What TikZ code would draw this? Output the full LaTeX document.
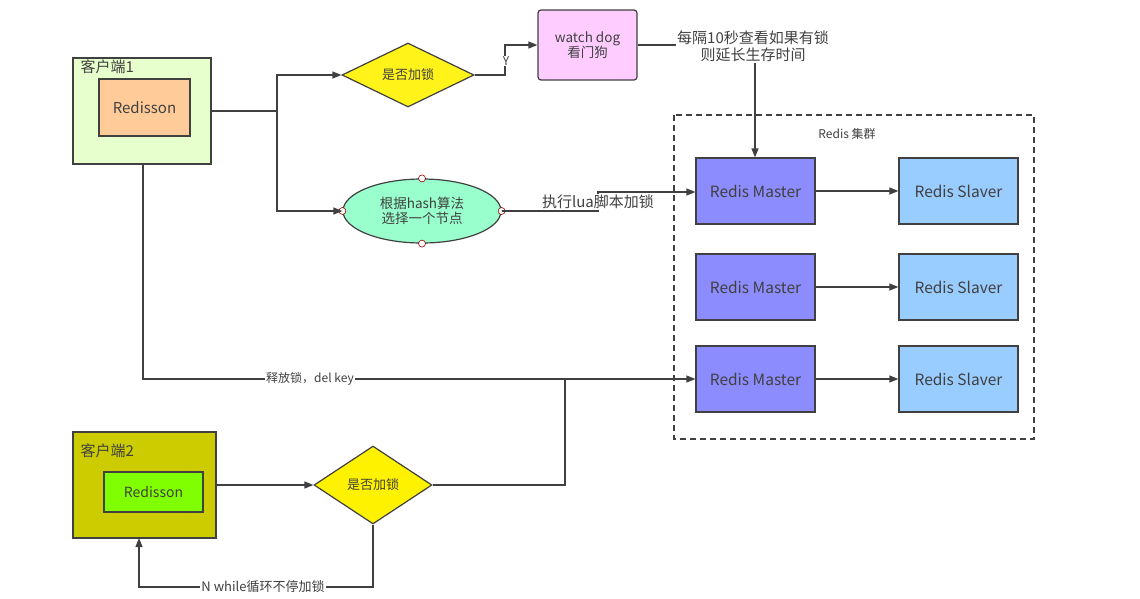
\documentclass[tikz,border=0pt]{standalone}
\usepackage{fontspec}
\setmainfont{Noto Sans CJK SC}
\usetikzlibrary{shapes.geometric,arrows.meta}
\begin{document}
\begin{tikzpicture}[x=1pt,y=-1pt,
  every node/.style={font=\fontsize{12}{14}\selectfont, text=black!75},
  ln/.style={draw=black!75,line width=1.2pt},
  ar/.style={ln,-{Triangle[length=9pt,width=7pt]}},
  box/.style={draw=black!75,line width=1.2pt,minimum width=#1,inner sep=0pt},
  rm/.style={draw=black!75,line width=1.2pt,fill=blue!45!white,minimum width=119pt,minimum height=66pt,font=\fontsize{15.5}{17}\selectfont},
  rs/.style={rm},
  lbl/.style={fill=white,inner sep=1pt}]
\useasboundingbox (0,0) rectangle (1140,598);
% cluster
\draw[line width=1.2pt,draw=black!75,dash pattern=on 6pt off 4pt] (674,115) rectangle (1034,439);
\node at (847,134) {Redis 集群};
\foreach \i/\y in {1/191,2/287,3/379}{
  \node[rm] (m\i) at (755.5,\y) {Redis Master};
  \node[rs,fill={rgb,255:red,153;green,204;blue,255}] (s\i) at (958.5,\y) {Redis Slaver};
  \draw[ar] (m\i) -- (s\i);
}
% client 1
\node[box=138pt,minimum height=106pt,fill={rgb,255:red,230;green,255;blue,204}] (c1) at (142,111) {};
\node[anchor=north west,font=\fontsize{15}{17}\selectfont,inner sep=2pt,xshift=6pt] (c1l) at (c1.north west) {客户端1};
\node[box=91pt,minimum height=57pt,fill={rgb,255:red,255;green,204;blue,153},font=\fontsize{15}{17}\selectfont] (r1) at (144.5,107.5) {Redisson};
\node[diamond,aspect=2.06,draw=black!75,line width=1.2pt,fill=yellow!90!white,minimum width=132pt,minimum height=64pt,inner sep=0pt,font=\fontsize{13}{15}\selectfont] (d1) at (408,75) {是否加锁};
\node[box=99pt,minimum height=70pt,rounded corners=3pt,fill={rgb,255:red,255;green,204;blue,255},align=center,font=\fontsize{13.5}{15}\selectfont] (wd) at (587.5,45) {watch dog\\看门狗};
\node[ellipse,draw=black!75,line width=1.2pt,fill={rgb,255:red,153;green,255;blue,204},minimum width=158pt,minimum height=64pt,inner sep=0pt,align=center,font=\fontsize{13.5}{15}\selectfont] (el) at (422,211) {根据hash算法\\选择一个节点};
\foreach \a in {north,south,east,west}
  \draw[draw=red!60!black,fill=white,line width=0.6pt] (el.\a) circle (3.5pt);
\node[align=center,font=\fontsize{15}{17}\selectfont,inner sep=1pt] (note) at (753,46) {每隔10秒查看如果有锁\\则延长生存时间};
\coordinate (j1) at (277,111);
\draw[ln] (c1.east |- 0,111) -- (j1);
\draw[ar] (j1) |- (d1.west);
\draw[ar] (j1) |- (el.west);
\draw[ar] (d1.east) -- (505,75) -- (505,45) -- (wd.west);
\node[lbl] at (506,61) {Y};
\draw[ln] (wd.east) -- (note.west |- wd.east);
\draw[ar] (note.south -| 755,0) -- (m1.north -| 755,0);
\draw[ar] (el.east) -- (598,211) -- (598,192) -- (m1.west |- 0,192);
\node[lbl,font=\fontsize{15}{17}\selectfont] at (598,202) {执行lua脚本加锁};
\draw[ar] (143,164) -- (143,379) -- (m3.west);
\node[lbl] at (310,379) {释放锁，del key};
% client 2
\node[box=143pt,minimum height=106pt,fill={rgb,255:red,204;green,204;blue,0}] (c2) at (144.5,485) {};
\node[anchor=north west,font=\fontsize{15}{17}\selectfont,inner sep=2pt,xshift=6pt,yshift=-10pt] (c2l) at (c2.north west) {客户端2};
\node[box=99pt,minimum height=40pt,fill={rgb,255:red,128;green,255;blue,0},font=\fontsize{14}{16}\selectfont] (r2) at (153.5,492) {Redisson};
\node[diamond,aspect=1.51,draw=black!75,line width=1.2pt,fill=yellow,minimum width=118pt,minimum height=78pt,inner sep=0pt,font=\fontsize{13}{15}\selectfont] (d2) at (373,485) {是否加锁};
\draw[ar] (c2.east |- 0,485) -- (d2.west);
\draw[ln] (d2.east) -- (565,485) -- (565,379);
\draw[ar] (d2.south) -- (373,587) -- (139,587) -- (139,538);
\node[lbl,font=\fontsize{13}{15}\selectfont] at (263,587) {N while循环不停加锁};
\end{tikzpicture}
\end{document}
